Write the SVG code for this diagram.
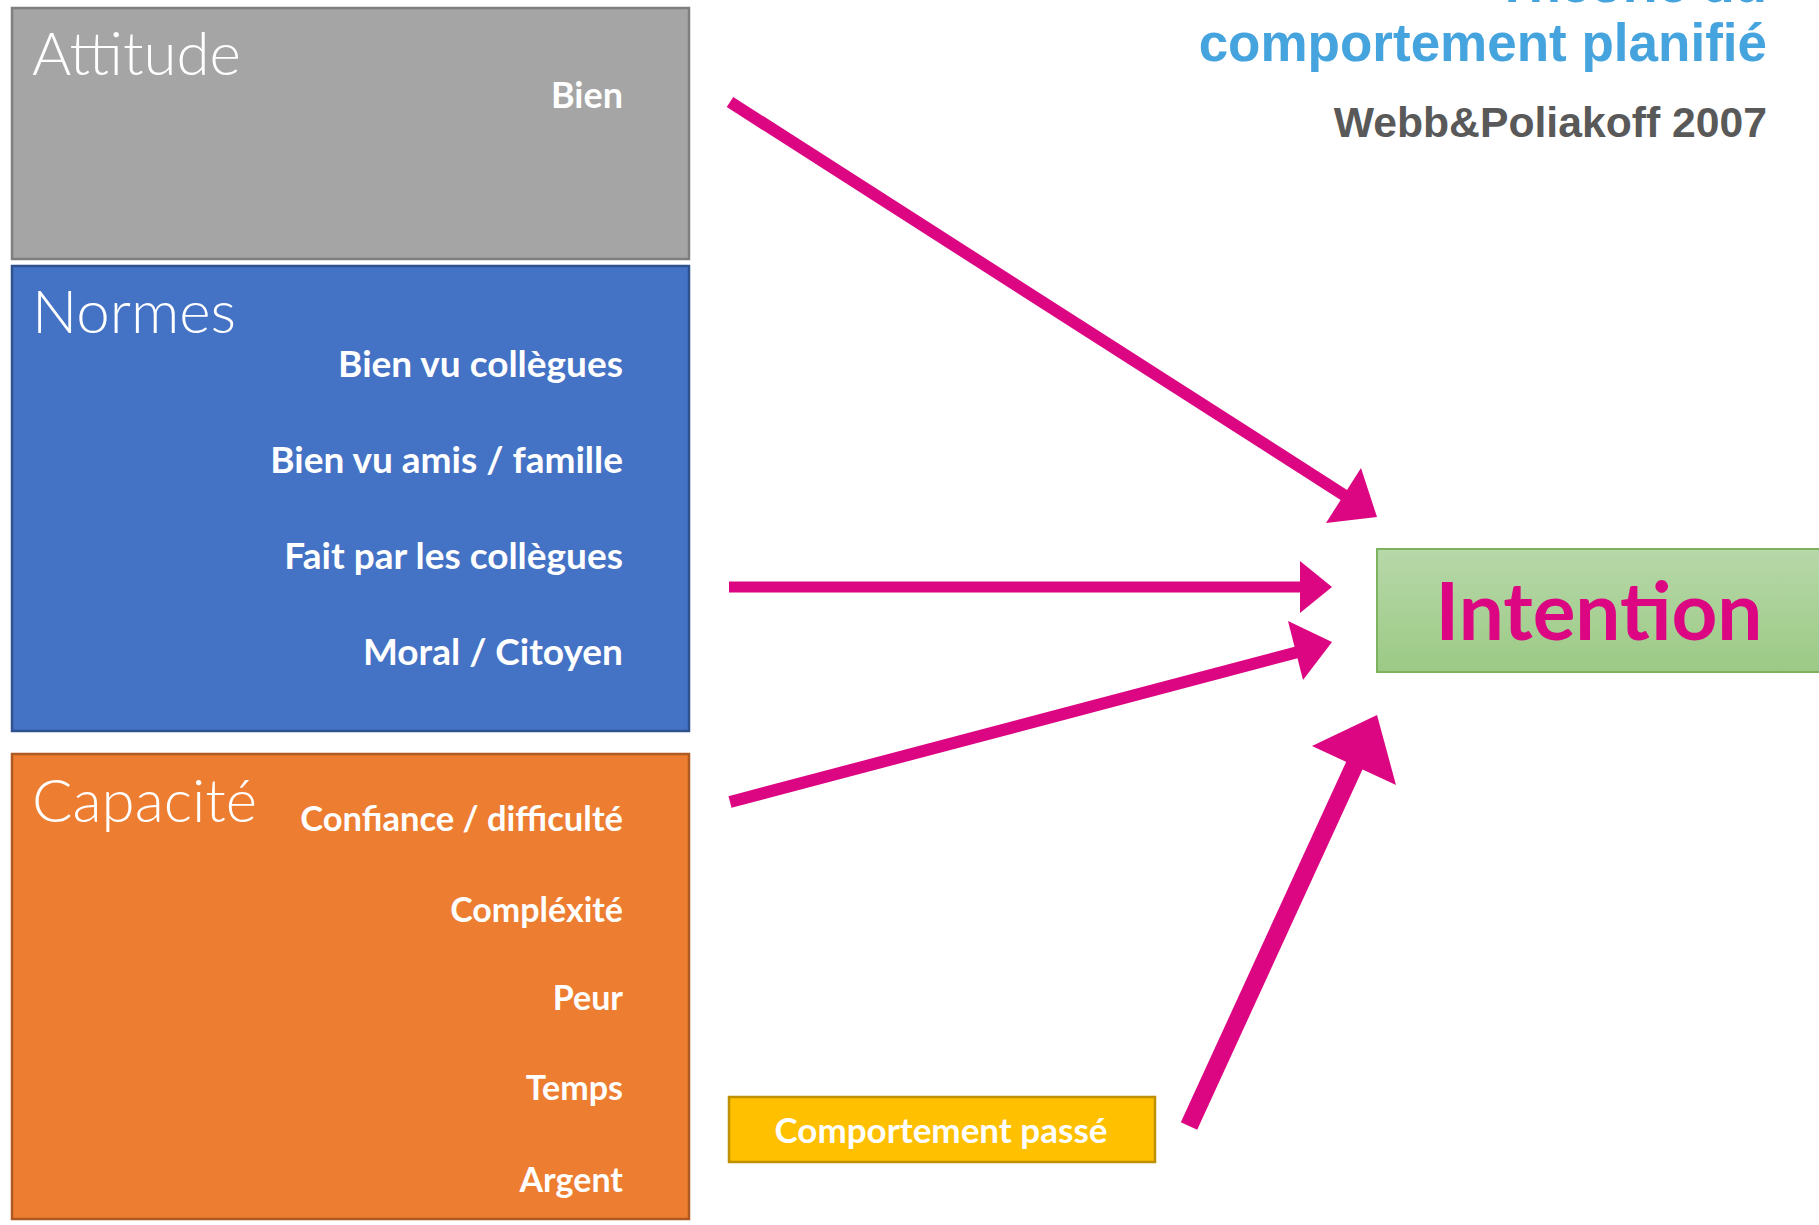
<svg xmlns="http://www.w3.org/2000/svg" width="1819" height="1225" viewBox="0 0 1819 1225">
<style>
.title{font-family:Lato,"Open Sans","Liberation Sans",sans-serif;font-weight:300;font-size:60px;fill:#fff}
.item{font-family:Lato,"Open Sans","Liberation Sans",sans-serif;font-weight:700;font-size:34px;fill:#fff;text-anchor:end}
.big{font-size:37px}
.head{font-family:"Liberation Sans",Arial,sans-serif;font-weight:700;text-anchor:end}
.arr{fill:#DC0582}
.shaft{stroke:#DC0582;stroke-linecap:butt;fill:none}
</style>
<defs>
<linearGradient id="g" x1="0" y1="0" x2="0" y2="1">
<stop offset="0" stop-color="#B7D8A9"/>
<stop offset="1" stop-color="#9CCA85"/>
</linearGradient>
</defs>
<rect width="1819" height="1225" fill="#fff"/>
<g id="heading">
<text class="head" x="1767" y="2" font-size="53" fill="#45A3DD">Théorie du</text>
<text class="head" x="1767" y="61" font-size="53" fill="#45A3DD">comportement planifié</text>
<text class="head" x="1767" y="137" font-size="42.7" fill="#595959">Webb&amp;Poliakoff 2007</text>
</g>
<g id="attitude">
<rect x="12" y="8" width="677" height="251" fill="#A5A5A5" stroke="#7F7F7F" stroke-width="2.5"/>
<text class="title" x="32" y="75">Attitude</text>
<text class="item" x="623" y="108" style="font-size:36px">Bien</text>
</g>
<g id="normes">
<rect x="12" y="266" width="677" height="465" fill="#4472C4" stroke="#2F528F" stroke-width="2.5"/>
<text class="title" x="32" y="333">Normes</text>
<text class="item big" x="623" y="377">Bien vu collègues</text>
<text class="item big" x="623" y="473">Bien vu amis / famille</text>
<text class="item big" x="623" y="569">Fait par les collègues</text>
<text class="item big" x="623" y="665">Moral / Citoyen</text>
</g>
<g id="capacite">
<rect x="12" y="754" width="677" height="465" fill="#ED7D31" stroke="#AE5A21" stroke-width="2.5"/>
<text class="title" x="32" y="822">Capacité</text>
<text class="item" x="623" y="831" style="font-size:34.5px">Confiance / difficulté</text>
<text class="item" x="623" y="922">Compléxité</text>
<text class="item" x="623" y="1010">Peur</text>
<text class="item" x="623" y="1100">Temps</text>
<text class="item" x="623" y="1192">Argent</text>
</g>
<g id="comportement">
<rect x="729" y="1097" width="426" height="65" fill="#FFC000" stroke="#BF9000" stroke-width="2.5"/>
<text class="item" x="941" y="1143" style="text-anchor:middle;font-size:35px">Comportement passé</text>
</g>
<g id="intention">
<rect x="1377" y="549" width="450" height="123" fill="url(#g)" stroke="#7DB35E" stroke-width="2"/>
<text x="1599" y="640" text-anchor="middle" font-family="Lato,'Open Sans','Liberation Sans',sans-serif" font-weight="700" font-size="80" fill="#DC0582">Intention</text>
</g>
<g id="connectors">
<line class="shaft" x1="730" y1="102" x2="1347" y2="497" stroke-width="12"/>
<polygon class="arr" points="1377,517 1361,468 1326,523"/>
<line class="shaft" x1="729" y1="587" x2="1302" y2="587" stroke-width="11"/>
<polygon class="arr" points="1332,587 1300,561 1300,613"/>
<line class="shaft" x1="730" y1="802" x2="1298" y2="652" stroke-width="12"/>
<polygon class="arr" points="1332,642 1288,621 1303,680"/>
<line class="shaft" x1="1189" y1="1126" x2="1356" y2="762" stroke-width="18"/>
<polygon class="arr" points="1377,715 1312,746 1396,785"/>
</g>
</svg>
